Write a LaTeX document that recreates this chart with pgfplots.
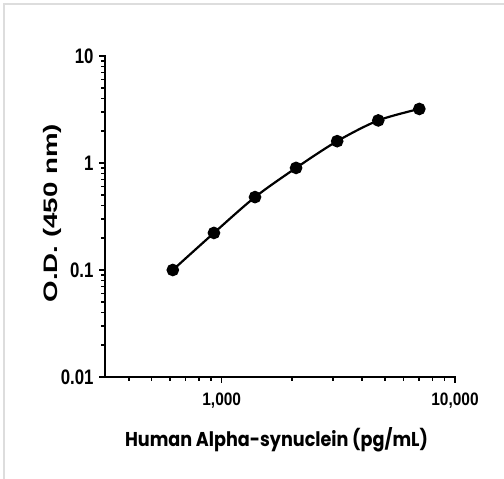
\documentclass[border=0pt]{standalone}
\usepackage{pgfplots}
\pgfplotsset{compat=1.18}
\usepackage{fontspec}
\setmainfont{Liberation Sans}
\newfontfamily\ytickfont{Liberation Sans}[FakeStretch=0.8]
\newfontfamily\xtickfont{Liberation Sans}[FakeStretch=0.86]
\newfontfamily\ylabfont{Liberation Sans}[FakeStretch=1.42]
\newfontfamily\xlabfont{Poppins}[FakeStretch=0.88]
\begin{document}
\begin{tikzpicture}[x=1bp,y=1bp]
\useasboundingbox (0,0) rectangle (504,479);
\draw[color={rgb,255:red,221;green,221;blue,221}, line width=2.5bp] (4,0) -- (4,475) -- (504,475);
\begin{axis}[
  at={(105bp,102bp)}, anchor=south west,
  scale only axis, width=350bp, height=321bp,
  xmode=log, ymode=log,
  xmin=316, xmax=10000, ymin=0.01, ymax=10,
  axis x line*=bottom, axis y line*=left,
  axis line style={line width=1.8bp, line cap=rect},
  every tick/.style={black, line width=1.5bp},
  tick align=outside,
  major tick length=6bp, minor tick length=4bp,
  xtick={1000,10000}, xticklabels={{1,000},{10,000}},
  minor xtick={400,500,600,700,800,900,2000,3000,4000,5000,6000,7000,8000,9000},
  ytick={0.01,0.1,1,10}, yticklabels={0.01,0.1,1,10},
  minor ytick={0.02,0.03,0.04,0.05,0.06,0.07,0.08,0.09,0.2,0.3,0.4,0.5,0.6,0.7,0.8,0.9,2,3,4,5,6,7,8,9},
  xticklabel style={font=\xtickfont\bfseries\fontsize{18bp}{20bp}\selectfont, yshift=-6bp},
  yticklabel style={font=\ytickfont\bfseries\fontsize{21bp}{23bp}\selectfont, xshift=-2bp},
  xlabel={Human Alpha-synuclein (pg/mL)},
  ylabel={O.D. (450 nm)},
  xlabel style={font=\xlabfont\bfseries\fontsize{20bp}{22bp}\selectfont, at={(axis description cs:0.49,-0.196)}, anchor=center},
  ylabel style={font=\ylabfont\bfseries\fontsize{19.5bp}{22bp}\selectfont, at={(axis description cs:-0.15,0.51)}, anchor=center},
  clip=false,
]
\addplot[black, line width=2.2bp, smooth, mark=*, mark size=5.2bp, mark options={fill=black}]
coordinates {
(617,0.100)
(926,0.222)
(1389,0.48)
(2083,0.90)
(3125,1.60)
(4688,2.50)
(7031,3.20)
};
\end{axis}
\end{tikzpicture}
\end{document}
